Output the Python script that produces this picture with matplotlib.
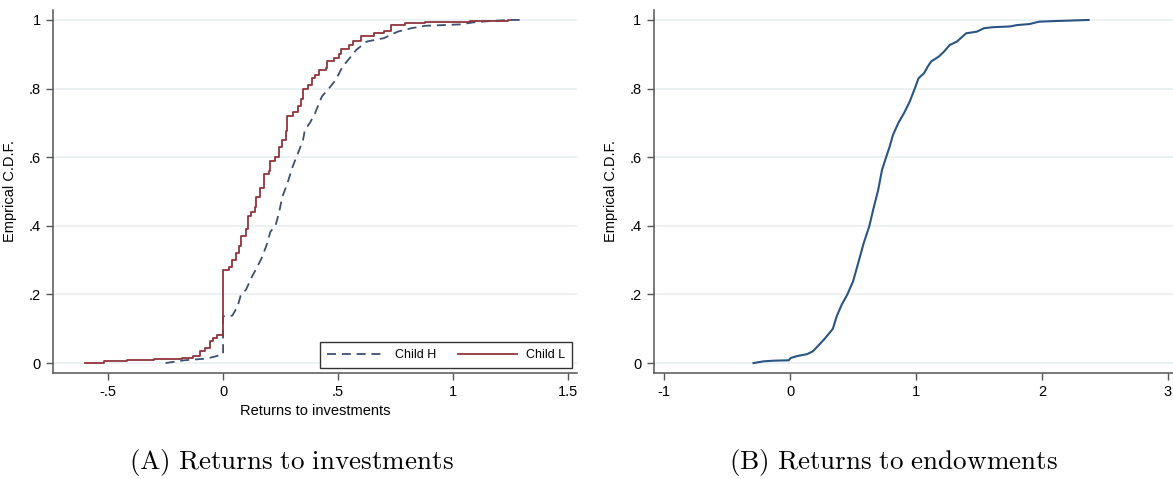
import matplotlib.pyplot as plt
import numpy as np

# Panel A: Child L (solid red)
child_l_x = [-0.60, -0.52, -0.42, -0.30, -0.18, -0.13, -0.10, -0.08, -0.057, -0.042, -0.027,
             0.0, 0.0, 0.026, 0.04, 0.055, 0.07, 0.078, 0.10, 0.108, 0.123, 0.138, 0.145,
             0.16, 0.176, 0.198, 0.205, 0.228, 0.243, 0.258, 0.273, 0.28, 0.303, 0.326,
             0.34, 0.348, 0.37, 0.386, 0.40, 0.416, 0.446, 0.453, 0.483, 0.506, 0.513,
             0.55, 0.566, 0.60, 0.655, 0.70, 0.73, 0.79, 0.88, 1.076, 1.24, 1.25]
child_l_y = [0.0, 0.005, 0.008, 0.012, 0.015, 0.02, 0.034, 0.044, 0.063, 0.073, 0.083,
             0.087, 0.272, 0.28, 0.30, 0.32, 0.34, 0.37, 0.39, 0.43, 0.44, 0.456, 0.485,
             0.51, 0.55, 0.56, 0.59, 0.60, 0.63, 0.65, 0.675, 0.72, 0.733, 0.75,
             0.77, 0.80, 0.81, 0.83, 0.84, 0.854, 0.86, 0.88, 0.89, 0.90, 0.915,
             0.927, 0.94, 0.953, 0.961, 0.969, 0.985, 0.99, 0.995, 0.998, 1.0, 1.0]

# Panel A: Child H (dashed navy)
child_h_x = [-0.25, -0.17, -0.072, -0.035, 0.0, 0.0, 0.04, 0.063, 0.078, 0.10, 0.123, 0.146,
             0.168, 0.19, 0.206, 0.228, 0.243, 0.258, 0.28, 0.303, 0.326, 0.348, 0.356,
             0.378, 0.40, 0.43, 0.46, 0.49, 0.52, 0.55, 0.58, 0.625, 0.70, 0.76, 0.82,
             0.88, 1.03, 1.09, 1.165, 1.25, 1.30]
child_h_y = [0.0, 0.008, 0.013, 0.019, 0.026, 0.136, 0.138, 0.165, 0.20, 0.214, 0.248, 0.277,
             0.306, 0.345, 0.383, 0.40, 0.437, 0.485, 0.524, 0.573, 0.612, 0.65, 0.68,
             0.70, 0.728, 0.777, 0.80, 0.825, 0.864, 0.888, 0.913, 0.937, 0.947, 0.966, 0.976,
             0.983, 0.987, 0.993, 0.997, 1.0, 1.0]

# Panel B: returns to endowments
endow_x = [-0.29, -0.21, -0.125, -0.01, 0.006, 0.064, 0.136, 0.18, 0.22, 0.28, 0.34, 0.37,
           0.41, 0.455, 0.50, 0.54, 0.585, 0.63, 0.66, 0.70, 0.73, 0.76, 0.79, 0.817,
           0.86, 0.904, 0.95, 0.99, 1.02, 1.064, 1.093, 1.12, 1.18, 1.223, 1.267, 1.325,
           1.397, 1.484, 1.54, 1.615, 1.745, 1.80, 1.90, 1.977, 2.12, 2.21, 2.37]
endow_y = [0.0, 0.005, 0.007, 0.008, 0.015, 0.021, 0.026, 0.034, 0.049, 0.073, 0.10, 0.136,
           0.17, 0.20, 0.238, 0.29, 0.35, 0.40, 0.447, 0.505, 0.563, 0.597, 0.63, 0.665,
           0.70, 0.728, 0.762, 0.80, 0.83, 0.845, 0.864, 0.879, 0.893, 0.908, 0.927, 0.937,
           0.961, 0.966, 0.976, 0.979, 0.981, 0.985, 0.988, 0.995, 0.997, 0.998, 1.0]

y_ticks = [0, 0.2, 0.4, 0.6, 0.8, 1.0]
y_labels = ['0', '.2', '.4', '.6', '.8', '1']
xa_ticks = [-0.5, 0, 0.5, 1, 1.5]
xa_labels = ['-.5', '0', '.5', '1', '1.5']
xb_ticks = [-1, 0, 1, 2, 3]
xb_labels = ['-1', '0', '1', '2', '3']

plt.rcParams['font.family'] = ['Liberation Sans', 'DejaVu Sans']
plt.rcParams['mathtext.fontset'] = 'cm'

W, H = 1173, 479
fig = plt.figure(figsize=(W / 100, H / 100), dpi=100)

grid_col = '#E9F0F2'
axis_col = '#555555'


def style_axes(ax, xticks, xlabels):
    ax.set_ylim(-0.029, 1.029)
    ax.set_yticks(y_ticks)
    ax.set_yticklabels(y_labels)
    ax.set_xticks(xticks)
    ax.set_xticklabels(xlabels)
    ax.tick_params(labelsize=10.5, length=5, width=1, color=axis_col, pad=4)
    for s in ['top', 'right']:
        ax.spines[s].set_visible(False)
    for s in ['left', 'bottom']:
        ax.spines[s].set_color(axis_col)
        ax.spines[s].set_linewidth(1.1)
    ax.yaxis.grid(True, color=grid_col, linewidth=1.2)
    ax.set_axisbelow(True)
    ax.set_ylabel('Emprical C.D.F.', fontsize=10.5, labelpad=8)


# === Panel A ===
ax1 = fig.add_axes([53 / W, (H - 373) / H, 524 / W, 363 / H])
ax1.plot(child_h_x, child_h_y, color='#3C5073',
         linewidth=1.3, dashes=(5, 3.2), label='Child H')
ax1.plot(child_l_x, child_l_y, drawstyle='steps-post', color='#90353B',
         linewidth=1.3, label='Child L')
ax1.set_xlim(-0.74, 1.54)
style_axes(ax1, xa_ticks, xa_labels)
ax1.set_xlabel('Returns to investments', fontsize=10.5, labelpad=3)
leg = ax1.legend(loc='lower right', bbox_to_anchor=(0.99, 0.014), borderaxespad=0,
                 ncol=2, fontsize=9, fancybox=False, framealpha=1,
                 edgecolor='#333333', handlelength=4.7, columnspacing=1.8,
                 handletextpad=0.7, borderpad=0.55)
leg.get_frame().set_linewidth(1.0)

# === Panel B ===
ax2 = fig.add_axes([654 / W, (H - 373) / H, (W - 654) / W, 363 / H])
ax2.plot(endow_x, endow_y, color='#2A5482', linewidth=1.5)
ax2.set_xlim(-1.08, 3.04)
style_axes(ax2, xb_ticks, xb_labels)

# Captions
fig.text(291 / W, 1 - 463 / H, r'$\mathrm{(A)\ Returns\ to\ investments}$',
         ha='center', va='center', fontsize=19.5)
fig.text(893 / W, 1 - 463 / H, r'$\mathrm{(B)\ Returns\ to\ endowments}$',
         ha='center', va='center', fontsize=19.5)

plt.savefig('out.png', dpi=100)
